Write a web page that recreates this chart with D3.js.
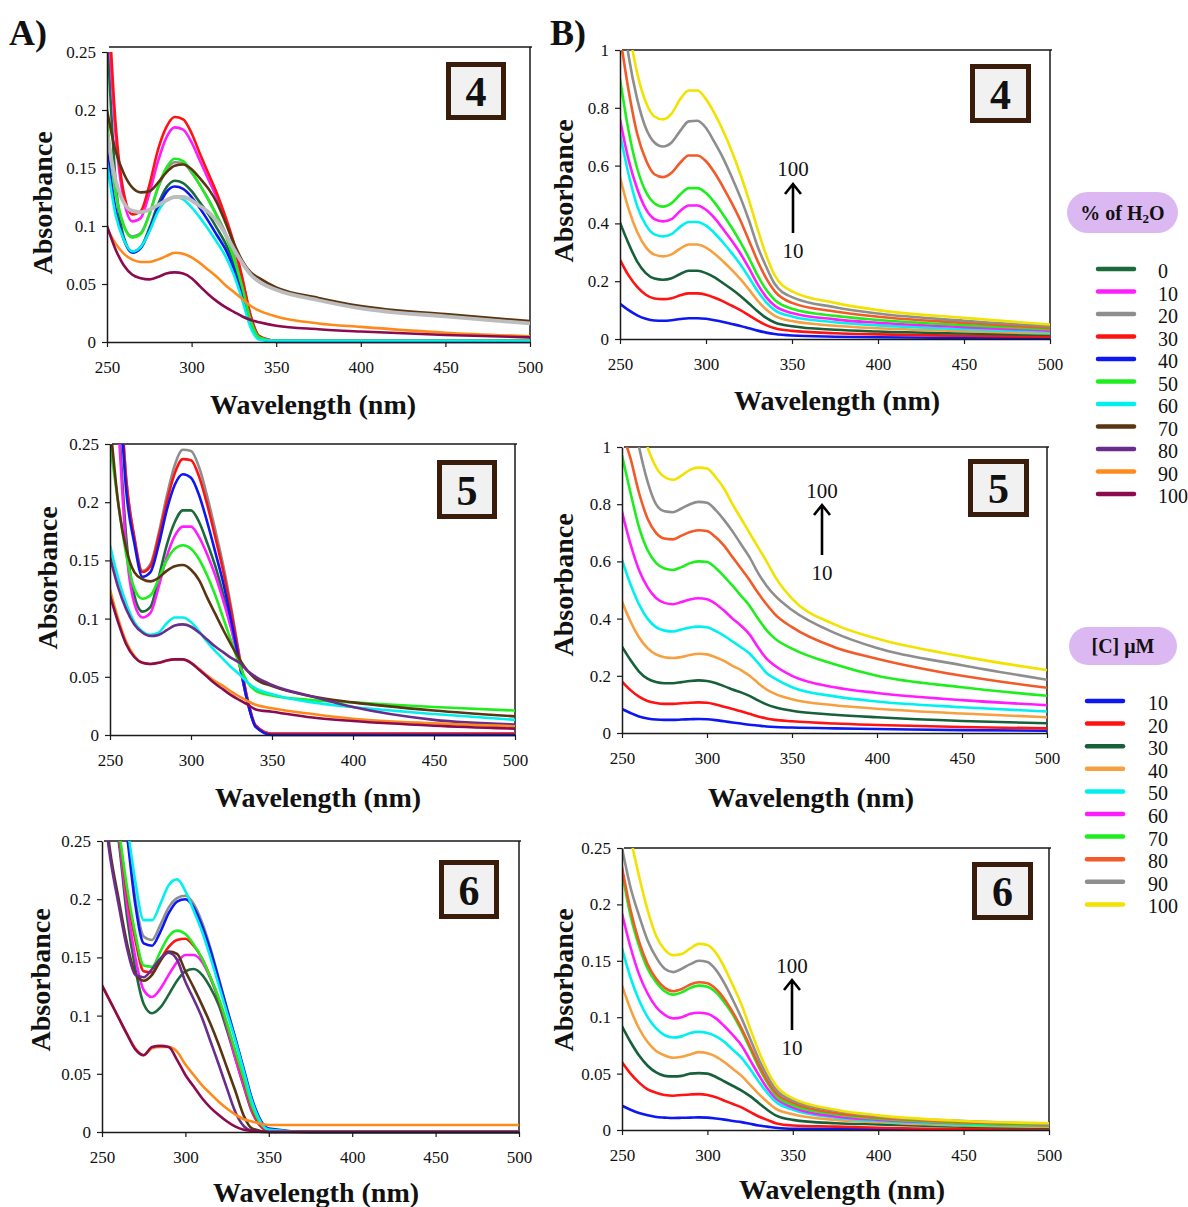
<!DOCTYPE html>
<html>
<head>
<meta charset="utf-8">
<script src="https://cdn.jsdelivr.net/npm/d3@7"></script>
<style>
  body { margin: 0; background: #fff; }
  svg { display: block; }
  text { font-family: "Liberation Serif", "Times New Roman", serif; fill: #111; }
</style>
</head>
<body>
<svg id="fig" width="1188" height="1207"></svg>
<script>
// Wavelength grid (nm) at which every spectrum is sampled
const WAVELENGTHS = [250,255,260,265,270,275,280,285,290,295,300,305,310,315,320,325,330,335,340,350,375,400,450,500];

// Series labels and colours
const H2O_LEVELS = ["0","10","20","30","40","50","60","70","80","90","100"];
const H2O_COLORS = ["#1b6a3c","#ff1cff","#8e8e8e","#ff1212","#0d17f2","#1eee1e","#00f0f0","#5a3511","#6a2d8c","#ff8a1c","#8c0b4f"];
const CONC_LEVELS = ["10","20","30","40","50","60","70","80","90","100"];
const CONC_COLORS = ["#0d17f2","#ff1212","#17603a","#f7a040","#00f0f0","#ff1cff","#1eee1e","#f25a28","#8e8e8e","#f2e200"];

const X_TICKS = [250,300,350,400,450,500];
const Y_TICKS_LOW = [0,0.05,0.1,0.15,0.2,0.25];
const Y_TICKS_HIGH = [0,0.2,0.4,0.6,0.8,1];

// A) compound 4, one row per % of water (H2O_LEVELS order)
const SPECTRA_A4 = [
  [0.27,0.14,0.09,0.078,0.082,0.098,0.118,0.133,0.139,0.137,0.130,0.120,0.110,0.098,0.085,0.068,0.045,0.017,0.004,0.001,0.001,0.001,0.001,0.001],
  [0.30,0.18,0.122,0.104,0.107,0.128,0.155,0.176,0.185,0.183,0.172,0.156,0.140,0.124,0.105,0.083,0.054,0.022,0.005,0.001,0.001,0.001,0.001,0.001],
  [0.185,0.13,0.10,0.091,0.094,0.110,0.132,0.148,0.155,0.154,0.146,0.135,0.123,0.109,0.094,0.074,0.048,0.019,0.004,0.001,0.001,0.001,0.001,0.001],
  [0.32,0.19,0.128,0.11,0.113,0.135,0.165,0.185,0.194,0.192,0.180,0.162,0.145,0.128,0.108,0.085,0.055,0.022,0.005,0.001,0.001,0.001,0.001,0.001],
  [0.165,0.115,0.088,0.077,0.081,0.096,0.115,0.129,0.134,0.132,0.125,0.115,0.104,0.092,0.080,0.063,0.040,0.014,0.003,0.000,0.000,0.000,0.000,0.000],
  [0.19,0.13,0.10,0.09,0.093,0.110,0.133,0.150,0.158,0.156,0.147,0.135,0.122,0.108,0.092,0.072,0.047,0.018,0.004,0.001,0.001,0.001,0.001,0.001],
  [0.155,0.11,0.088,0.078,0.082,0.095,0.112,0.122,0.125,0.123,0.116,0.107,0.097,0.086,0.074,0.058,0.036,0.012,0.002,0.001,0.001,0.001,0.001,0.001],
  [0.20,0.165,0.145,0.133,0.129,0.130,0.137,0.146,0.152,0.153,0.149,0.141,0.132,0.120,0.103,0.085,0.070,0.060,0.055,0.047,0.038,0.031,0.024,0.018],
  [0.18,0.14,0.12,0.113,0.112,0.114,0.118,0.122,0.125,0.125,0.122,0.117,0.112,0.104,0.093,0.080,0.068,0.058,0.052,0.045,0.036,0.029,0.022,0.016],
  [0.098,0.085,0.076,0.071,0.069,0.069,0.071,0.074,0.077,0.076,0.073,0.068,0.062,0.056,0.049,0.043,0.037,0.031,0.027,0.022,0.016,0.013,0.008,0.005],
  [0.10,0.08,0.066,0.058,0.055,0.054,0.056,0.059,0.060,0.059,0.055,0.048,0.041,0.035,0.030,0.026,0.022,0.019,0.017,0.014,0.011,0.009,0.006,0.004]
];

// A) compound 5
const SPECTRA_A5 = [
  [0.40,0.28,0.17,0.12,0.106,0.11,0.135,0.163,0.183,0.193,0.193,0.183,0.165,0.145,0.12,0.092,0.06,0.028,0.007,0.001,0.001,0.001,0.001,0.001],
  [0.38,0.27,0.16,0.113,0.101,0.105,0.127,0.153,0.171,0.179,0.179,0.17,0.155,0.137,0.115,0.09,0.06,0.028,0.007,0.001,0.001,0.001,0.001,0.001],
  [0.45,0.33,0.22,0.17,0.141,0.147,0.173,0.205,0.232,0.245,0.244,0.23,0.205,0.176,0.145,0.108,0.067,0.03,0.008,0.001,0.001,0.001,0.001,0.001],
  [0.45,0.33,0.22,0.17,0.14,0.145,0.17,0.20,0.225,0.237,0.236,0.222,0.198,0.17,0.14,0.105,0.066,0.03,0.008,0.001,0.001,0.001,0.001,0.001],
  [0.45,0.32,0.21,0.165,0.136,0.14,0.163,0.193,0.215,0.224,0.221,0.206,0.183,0.157,0.13,0.097,0.062,0.028,0.007,0.0,0.0,0.0,0.0,0.0],
  [0.25,0.20,0.155,0.126,0.117,0.12,0.134,0.15,0.16,0.163,0.16,0.151,0.137,0.12,0.10,0.08,0.06,0.045,0.038,0.034,0.03,0.028,0.024,0.021],
  [0.163,0.135,0.113,0.097,0.089,0.086,0.088,0.096,0.101,0.101,0.097,0.089,0.08,0.072,0.065,0.058,0.052,0.045,0.04,0.035,0.028,0.024,0.018,0.013],
  [0.27,0.20,0.16,0.14,0.134,0.132,0.135,0.141,0.145,0.146,0.142,0.133,0.118,0.104,0.09,0.077,0.065,0.055,0.048,0.042,0.033,0.028,0.021,0.016],
  [0.153,0.127,0.108,0.095,0.088,0.085,0.086,0.09,0.094,0.095,0.093,0.088,0.082,0.076,0.071,0.066,0.062,0.055,0.05,0.043,0.033,0.024,0.013,0.009],
  [0.125,0.10,0.08,0.068,0.062,0.061,0.062,0.064,0.065,0.065,0.062,0.057,0.051,0.046,0.042,0.037,0.033,0.029,0.026,0.023,0.018,0.014,0.01,0.0075],
  [0.12,0.097,0.078,0.067,0.062,0.061,0.062,0.064,0.065,0.065,0.062,0.056,0.05,0.044,0.039,0.034,0.03,0.026,0.022,0.02,0.015,0.012,0.008,0.0055]
];

// A) compound 6
const SPECTRA_A6 = [
  [0.34,0.29,0.25,0.185,0.14,0.11,0.102,0.107,0.118,0.13,0.138,0.14,0.135,0.124,0.109,0.087,0.063,0.039,0.017,0.001,0,0,0,0],
  [0.35,0.30,0.255,0.195,0.15,0.122,0.116,0.123,0.135,0.146,0.152,0.152,0.146,0.132,0.114,0.09,0.063,0.04,0.018,0.001,0,0,0,0],
  [0.45,0.38,0.32,0.26,0.20,0.168,0.165,0.178,0.193,0.201,0.203,0.196,0.18,0.158,0.132,0.106,0.08,0.053,0.027,0.002,0,0,0,0],
  [0.36,0.30,0.258,0.205,0.165,0.138,0.137,0.148,0.159,0.165,0.166,0.16,0.149,0.133,0.114,0.092,0.068,0.044,0.02,0.001,0,0,0,0],
  [0.44,0.37,0.31,0.255,0.195,0.162,0.16,0.172,0.188,0.198,0.20,0.193,0.177,0.156,0.131,0.105,0.08,0.054,0.028,0.003,0,0,0,0],
  [0.36,0.30,0.26,0.21,0.17,0.143,0.142,0.155,0.168,0.173,0.17,0.161,0.149,0.133,0.115,0.093,0.069,0.046,0.022,0.002,0,0,0,0],
  [0.45,0.38,0.32,0.265,0.215,0.182,0.182,0.196,0.212,0.217,0.207,0.19,0.172,0.15,0.126,0.102,0.078,0.052,0.026,0.002,0,0,0,0],
  [0.30,0.24,0.20,0.162,0.136,0.13,0.135,0.147,0.155,0.153,0.138,0.124,0.109,0.093,0.075,0.055,0.035,0.014,0.003,0,0,0,0,0],
  [0.29,0.235,0.195,0.158,0.135,0.133,0.14,0.149,0.154,0.148,0.129,0.114,0.098,0.078,0.058,0.037,0.017,0.005,0.001,0,0,0,0,0],
  [0.126,0.112,0.098,0.084,0.072,0.066,0.072,0.073,0.073,0.069,0.058,0.049,0.04,0.033,0.026,0.02,0.015,0.011,0.009,0.006,0.006,0.006,0.006,0.006],
  [0.126,0.112,0.098,0.084,0.071,0.066,0.073,0.074,0.073,0.062,0.049,0.039,0.029,0.021,0.0146,0.009,0.0046,0.002,0.001,0,0,0,0,0]
];

// B) compound 4, one row per concentration (CONC_LEVELS order)
const SPECTRA_B4 = [
  [0.122,0.10,0.082,0.07,0.064,0.063,0.065,0.069,0.072,0.072,0.07,0.065,0.059,0.052,0.045,0.037,0.029,0.022,0.017,0.012,0.008,0.006,0.004,0.003],
  [0.274,0.22,0.18,0.153,0.14,0.138,0.141,0.151,0.158,0.158,0.153,0.143,0.13,0.115,0.10,0.082,0.064,0.048,0.037,0.028,0.02,0.016,0.011,0.008],
  [0.403,0.33,0.268,0.228,0.209,0.205,0.21,0.225,0.236,0.236,0.228,0.213,0.193,0.172,0.149,0.123,0.096,0.073,0.057,0.044,0.032,0.026,0.019,0.014],
  [0.56,0.45,0.37,0.318,0.292,0.286,0.293,0.313,0.327,0.327,0.316,0.295,0.268,0.239,0.207,0.171,0.133,0.102,0.08,0.062,0.046,0.037,0.027,0.019],
  [0.71,0.57,0.46,0.395,0.362,0.355,0.363,0.388,0.405,0.405,0.392,0.366,0.333,0.297,0.258,0.213,0.166,0.127,0.10,0.078,0.058,0.047,0.034,0.024],
  [0.76,0.62,0.52,0.45,0.415,0.407,0.415,0.443,0.462,0.462,0.447,0.418,0.38,0.34,0.296,0.245,0.19,0.145,0.115,0.09,0.068,0.056,0.041,0.029],
  [0.90,0.72,0.59,0.51,0.47,0.458,0.47,0.50,0.522,0.522,0.505,0.472,0.43,0.385,0.335,0.28,0.22,0.17,0.135,0.105,0.08,0.066,0.048,0.034],
  [1.05,0.86,0.71,0.62,0.57,0.56,0.575,0.61,0.635,0.635,0.615,0.575,0.525,0.47,0.41,0.34,0.27,0.21,0.165,0.125,0.095,0.077,0.056,0.038],
  [1.20,0.98,0.83,0.73,0.68,0.666,0.68,0.72,0.753,0.755,0.73,0.68,0.625,0.56,0.49,0.41,0.32,0.25,0.19,0.145,0.11,0.088,0.063,0.044],
  [1.30,1.08,0.92,0.82,0.77,0.76,0.78,0.83,0.86,0.86,0.83,0.78,0.72,0.65,0.57,0.48,0.38,0.29,0.22,0.165,0.125,0.10,0.073,0.05]
];

// B) compound 5
const SPECTRA_B5 = [
  [0.084,0.07,0.058,0.051,0.047,0.046,0.046,0.047,0.048,0.049,0.048,0.045,0.041,0.037,0.033,0.029,0.026,0.023,0.021,0.019,0.016,0.014,0.01,0.008],
  [0.18,0.15,0.127,0.112,0.105,0.102,0.102,0.104,0.106,0.107,0.106,0.10,0.092,0.084,0.076,0.067,0.058,0.051,0.046,0.041,0.033,0.028,0.021,0.016],
  [0.302,0.255,0.215,0.19,0.178,0.174,0.174,0.178,0.182,0.184,0.182,0.175,0.164,0.152,0.142,0.13,0.114,0.10,0.09,0.078,0.064,0.055,0.042,0.034],
  [0.46,0.39,0.335,0.297,0.275,0.265,0.262,0.266,0.273,0.277,0.275,0.265,0.252,0.235,0.22,0.20,0.175,0.152,0.137,0.118,0.097,0.085,0.068,0.055],
  [0.605,0.52,0.45,0.40,0.37,0.358,0.355,0.362,0.369,0.372,0.37,0.357,0.34,0.32,0.30,0.278,0.245,0.21,0.19,0.16,0.128,0.11,0.09,0.075],
  [0.773,0.66,0.57,0.51,0.472,0.455,0.45,0.458,0.467,0.471,0.468,0.452,0.428,0.40,0.375,0.345,0.30,0.26,0.235,0.20,0.16,0.14,0.115,0.097],
  [0.97,0.84,0.72,0.64,0.595,0.575,0.57,0.58,0.594,0.60,0.598,0.578,0.548,0.515,0.48,0.445,0.40,0.36,0.33,0.295,0.24,0.20,0.16,0.13],
  [1.05,0.96,0.84,0.75,0.70,0.68,0.677,0.69,0.703,0.709,0.706,0.685,0.655,0.615,0.575,0.535,0.49,0.45,0.415,0.37,0.30,0.26,0.20,0.158],
  [1.35,1.15,1.00,0.88,0.80,0.775,0.772,0.785,0.80,0.808,0.805,0.78,0.745,0.705,0.66,0.615,0.56,0.515,0.48,0.43,0.35,0.297,0.237,0.186],
  [1.50,1.30,1.10,1.00,0.93,0.895,0.885,0.90,0.92,0.928,0.925,0.895,0.855,0.80,0.75,0.70,0.65,0.60,0.547,0.47,0.38,0.33,0.268,0.22]
];

// B) compound 6
const SPECTRA_B6 = [
  [0.0215,0.018,0.015,0.013,0.0115,0.011,0.0106,0.0108,0.011,0.0112,0.011,0.0102,0.0092,0.008,0.007,0.0055,0.004,0.003,0.002,0.001,0.001,0.0008,0.0006,0.0005],
  [0.06,0.05,0.042,0.036,0.033,0.031,0.0304,0.031,0.0315,0.0318,0.031,0.029,0.026,0.023,0.02,0.016,0.012,0.009,0.006,0.004,0.003,0.002,0.001,0.001],
  [0.092,0.078,0.066,0.057,0.051,0.048,0.0475,0.048,0.05,0.0504,0.05,0.047,0.043,0.039,0.035,0.03,0.024,0.018,0.013,0.009,0.006,0.005,0.003,0.002],
  [0.128,0.107,0.09,0.078,0.07,0.066,0.064,0.065,0.067,0.069,0.068,0.065,0.06,0.054,0.048,0.04,0.032,0.025,0.019,0.014,0.009,0.007,0.004,0.003],
  [0.161,0.135,0.115,0.10,0.09,0.084,0.082,0.083,0.086,0.087,0.086,0.083,0.078,0.071,0.064,0.054,0.043,0.033,0.025,0.018,0.011,0.008,0.005,0.004],
  [0.192,0.162,0.138,0.121,0.109,0.102,0.099,0.10,0.103,0.104,0.103,0.099,0.092,0.084,0.075,0.062,0.049,0.037,0.028,0.02,0.012,0.009,0.006,0.004],
  [0.229,0.19,0.163,0.143,0.131,0.123,0.12,0.122,0.126,0.128,0.127,0.122,0.113,0.102,0.088,0.072,0.056,0.042,0.031,0.022,0.014,0.01,0.006,0.004],
  [0.233,0.195,0.167,0.147,0.134,0.126,0.123,0.125,0.129,0.131,0.13,0.125,0.116,0.104,0.09,0.074,0.058,0.044,0.033,0.024,0.015,0.011,0.007,0.005],
  [0.25,0.215,0.19,0.168,0.153,0.143,0.14,0.143,0.147,0.15,0.149,0.142,0.13,0.115,0.099,0.081,0.063,0.048,0.036,0.026,0.017,0.012,0.008,0.005],
  [0.31,0.26,0.225,0.195,0.172,0.16,0.155,0.156,0.161,0.165,0.164,0.157,0.144,0.128,0.111,0.09,0.07,0.053,0.04,0.028,0.018,0.013,0.008,0.006]
];

// In panel A4 the 80 % trace is drawn as a wide light-grey line
const A4_COLORS = H2O_COLORS.map((c, i) => H2O_LEVELS[i] === "80" ? "#bcbcbc" : c);

const svg = d3.select("#fig");

const panels = [
  { name: "4", data: SPECTRA_A4, colors: A4_COLORS, wide: "80", levels: H2O_LEVELS, ymax: 0.25, yticks: Y_TICKS_LOW,
    x0: 107, x1: 530, yTop: 52, yBot: 342, frameTop: 47, box: [446, 62, 60, 58], xTitle: [313, 404], yTitle: [42, 203] },
  { name: "4", data: SPECTRA_B4, colors: CONC_COLORS, levels: CONC_LEVELS, ymax: 1, yticks: Y_TICKS_HIGH,
    x0: 620, x1: 1050, yTop: 50, yBot: 339, frameTop: 50, box: [970, 64, 61, 59], xTitle: [837, 400], yTitle: [563, 191],
    arrow: { x: 793, tip: 184, tail: 233, top: 169, bottom: 251 } },
  { name: "5", data: SPECTRA_A5, colors: H2O_COLORS, levels: H2O_LEVELS, ymax: 0.25, yticks: Y_TICKS_LOW,
    x0: 110, x1: 515, yTop: 444, yBot: 735, frameTop: 444, box: [437, 460, 60, 59], xTitle: [318, 797], yTitle: [47, 578] },
  { name: "5", data: SPECTRA_B5, colors: CONC_COLORS, levels: CONC_LEVELS, ymax: 1, yticks: Y_TICKS_HIGH,
    x0: 622, x1: 1047, yTop: 447, yBot: 733, frameTop: 447, box: [968, 459, 61, 58], xTitle: [811, 797], yTitle: [563, 585],
    arrow: { x: 822, tip: 505, tail: 555, top: 491, bottom: 573 } },
  { name: "6", data: SPECTRA_A6, colors: H2O_COLORS, levels: H2O_LEVELS, ymax: 0.25, yticks: Y_TICKS_LOW,
    x0: 102, x1: 519, yTop: 841, yBot: 1132, frameTop: 841, box: [439, 860, 60, 59], xTitle: [316, 1192], yTitle: [40, 980] },
  { name: "6", data: SPECTRA_B6, colors: CONC_COLORS, levels: CONC_LEVELS, ymax: 0.25, yticks: Y_TICKS_LOW,
    x0: 622, x1: 1049, yTop: 848, yBot: 1130, frameTop: 848, box: [972, 862, 61, 58], xTitle: [842, 1189], yTitle: [563, 980],
    arrow: { x: 792, tip: 980, tail: 1030, top: 966, bottom: 1048 } }
];

const tickFmt = d => d === 0 ? "0" : String(+d.toFixed(2));

panels.forEach((p, pi) => {
  const g = svg.append("g");
  const x = d3.scaleLinear().domain([250, 500]).range([p.x0, p.x1]);
  const y = d3.scaleLinear().domain([0, p.ymax]).range([p.yBot, p.yTop]);

  const clipId = "clip" + pi;
  svg.append("clipPath").attr("id", clipId)
    .append("rect").attr("x", p.x0).attr("y", p.yTop).attr("width", p.x1 - p.x0).attr("height", p.yBot - p.yTop + 2);

  // frame: top and right borders of the plot area
  g.append("path")
    .attr("d", `M${p.x0 + 2},${p.frameTop}H${p.x1 + 2}M${p.x1},${p.frameTop}V${p.yBot}`)
    .attr("fill", "none").attr("stroke", "#1a1a1a").attr("stroke-width", 1.5);

  const line = d3.line()
    .x((d, i) => x(WAVELENGTHS[i]))
    .y(d => y(d))
    .curve(d3.curveMonotoneX);

  const traces = g.append("g").attr("clip-path", `url(#${clipId})`);
  p.data.forEach((row, i) => {
    traces.append("path")
      .attr("d", line(row))
      .attr("fill", "none")
      .attr("stroke", p.colors[i])
      .attr("stroke-width", p.wide && p.levels[i] === p.wide ? 3.8 : 2.6)
      .attr("stroke-linejoin", "round")
      .attr("stroke-linecap", "round");
  });

  // axes
  const yAxis = g.append("g").attr("transform", `translate(${p.x0},0)`)
    .call(d3.axisLeft(y).tickValues(p.yticks).tickFormat(tickFmt).tickSize(5).tickPadding(6).tickSizeOuter(0));
  const xAxis = g.append("g").attr("transform", `translate(0,${p.yBot})`)
    .call(d3.axisBottom(x).tickValues(X_TICKS).tickFormat(d3.format("d")).tickSize(5).tickPadding(14).tickSizeOuter(0));
  [xAxis, yAxis].forEach(a => {
    a.select(".domain").attr("stroke", "#1a1a1a").attr("stroke-width", 1.5);
    a.selectAll(".tick line").attr("stroke", "#1a1a1a").attr("stroke-width", 1.2);
    a.selectAll(".tick text").attr("font-family", "Liberation Serif, serif").attr("font-size", 17).attr("fill", "#111");
  });

  g.append("text").attr("x", p.xTitle[0]).attr("y", p.xTitle[1])
    .attr("text-anchor", "middle").attr("dominant-baseline", "central")
    .attr("font-size", 28).attr("font-weight", "bold").text("Wavelength (nm)");
  g.append("text").attr("transform", `translate(${p.yTitle[0]},${p.yTitle[1]}) rotate(-90)`)
    .attr("text-anchor", "middle").attr("dominant-baseline", "central")
    .attr("font-size", 28).attr("font-weight", "bold").text("Absorbance");

  // compound number badge
  const [bx, by, bw, bh] = p.box;
  g.append("rect").attr("x", bx + 2.5).attr("y", by + 2.5).attr("width", bw - 5).attr("height", bh - 5)
    .attr("fill", "#f1f1f1").attr("stroke", "#3a1c0a").attr("stroke-width", 5);
  g.append("text").attr("x", bx + bw / 2).attr("y", by + bh / 2 + 1)
    .attr("text-anchor", "middle").attr("dominant-baseline", "central")
    .attr("font-size", 42).attr("font-weight", "bold").text(p.name);

  // concentration arrow (10 -> 100)
  if (p.arrow) {
    const a = p.arrow;
    g.append("path")
      .attr("d", `M${a.x},${a.tail}V${a.tip}M${a.x - 8},${a.tip + 10}L${a.x},${a.tip}L${a.x + 8},${a.tip + 10}`)
      .attr("fill", "none").attr("stroke", "#000").attr("stroke-width", 2.6);
    g.append("text").attr("x", a.x).attr("y", a.top).attr("text-anchor", "middle")
      .attr("dominant-baseline", "central").attr("font-size", 21).text("100");
    g.append("text").attr("x", a.x).attr("y", a.bottom).attr("text-anchor", "middle")
      .attr("dominant-baseline", "central").attr("font-size", 21).text("10");
  }
});

// panel letters
svg.append("text").attr("x", 9).attr("y", 45).attr("font-size", 36).attr("font-weight", "bold").text("A)");
svg.append("text").attr("x", 550).attr("y", 45).attr("font-size", 36).attr("font-weight", "bold").text("B)");

// legends
function legend(titleBox, entries, colors, lineX, labelX, firstY, stepY, titleFn) {
  const g = svg.append("g");
  const [tx, ty, tw, th] = titleBox;
  g.append("rect").attr("x", tx).attr("y", ty).attr("width", tw).attr("height", th)
    .attr("rx", th / 2).attr("fill", "#dcb8f2");
  const t = g.append("text").attr("x", tx + tw / 2).attr("y", ty + th / 2)
    .attr("text-anchor", "middle").attr("dominant-baseline", "central")
    .attr("font-size", 20).attr("font-weight", "bold");
  titleFn(t);
  entries.forEach((lab, i) => {
    const yy = firstY + i * stepY;
    g.append("line").attr("x1", lineX[0]).attr("x2", lineX[1]).attr("y1", yy).attr("y2", yy)
      .attr("stroke", colors[i]).attr("stroke-width", 4.5).attr("stroke-linecap", "round");
    g.append("text").attr("x", labelX).attr("y", yy + 2).attr("dominant-baseline", "central")
      .attr("font-size", 20).text(lab);
  });
}

legend([1067, 192, 111, 41], H2O_LEVELS, H2O_COLORS, [1098, 1134], 1158, 269, 22.5, t => {
  t.append("tspan").text("% of H");
  t.append("tspan").attr("font-size", 13).attr("dy", 5).text("2");
  t.append("tspan").attr("dy", -5).text("O");
});
legend([1069, 627, 108, 38], CONC_LEVELS, CONC_COLORS, [1087, 1123], 1148, 701, 22.6, t => {
  t.text("[C] \u03bcM");
});
</script>
</body>
</html>
